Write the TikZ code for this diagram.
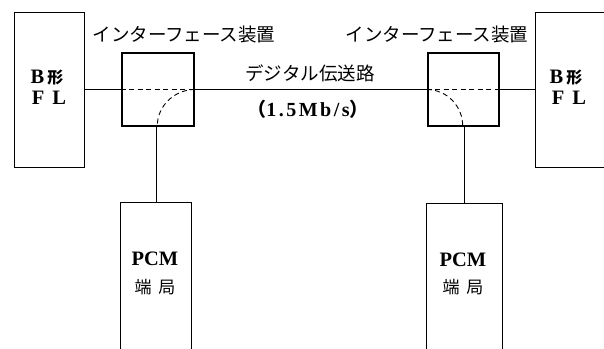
\documentclass[tikz,border=0pt]{standalone}
\usepackage{fontspec}
\setmainfont{Liberation Serif}
\newfontfamily\jp{Noto Sans CJK JP}
\begin{document}
\begin{tikzpicture}[x=1pt,y=-1pt,
  flbox/.style={draw, line width=0.9pt, minimum width=70pt, minimum height=155pt, inner sep=0pt},
  ifbox/.style={draw, line width=2.6pt, minimum width=72pt, minimum height=73pt, inner sep=0pt},
  pcmbox/.style={draw, line width=0.9pt, minimum width=71pt, minimum height=170pt, inner sep=0pt},
  wire/.style={line width=0.9pt},
  dwire/.style={line width=0.9pt, dash pattern=on 5pt off 3.5pt},
  lbl/.style={font=\jp\fontsize{18.5}{20}\selectfont, inner sep=0pt},
  lat/.style={font=\bfseries\fontsize{20.5}{22}\selectfont, inner sep=0pt},
  kan/.style={font=\jp\fontsize{17}{19}\selectfont, inner sep=0pt}]
\clip (0,0) rectangle (604,348);
% boxes
\node[flbox] (fl1) at (49,89.5) {};
\node[flbox, minimum width=90pt] (fl2) at (580,89.5) {};
\node[ifbox] (if1) at (158,89.5) {};
\node[ifbox, minimum width=71pt] (if2) at (463.5,89.5) {};
\node[pcmbox] (pcm1) at (156,287) {};
\node[pcmbox, minimum width=76pt] (pcm2) at (464,288) {};
% wires
\draw[wire] (fl1.east) -- (if1.west);
\draw[dwire] (if1.west) -- (if1.east);
\draw[wire] (if1.east) -- (if2.west);
\draw[dwire] (if2.west) -- (if2.east);
\draw[wire] (if2.east) -- (fl2.west);
\draw[dwire] (if1.east) arc[start angle=270, end angle=180, x radius=38, y radius=36.5];
\draw[dwire] (if2.west) arc[start angle=270, end angle=360, x radius=36, y radius=36.5];
\draw[wire] (pcm1.north) -- (pcm1.north |- if1.south);
\draw[wire] (pcm2.north) -- (pcm2.north |- if2.south);
% labels
\node[lbl] (lab1) at (184,35) {インターフェース装置};
\node[lbl] (lab2) at (437,35) {インターフェース装置};
\node[lbl] (lab3) at (310,73) {デジタル伝送路};
\node[lat, font=\bfseries\fontsize{20}{22}\selectfont] (lab4) at (308,109) {{\jp\fontsize{19}{20}\selectfont （}1\kern2.5pt.\kern2.5pt5\kern2.5pt M\kern2.5pt b\kern2.5pt/\kern2.5pt s{\jp\fontsize{19}{20}\selectfont ）}};
\node[lat] (b1) at (47,78) {B\hspace{3pt}{\jp\fontsize{16}{18}\selectfont 形}};
\node[lat] (f1) at (49,98) {F\hspace{8pt}L};
\node[lat] (b2) at (566,78) {B\hspace{3pt}{\jp\fontsize{16}{18}\selectfont 形}};
\node[lat] (f2) at (569,98) {F\hspace{8pt}L};
\node[lat] (p1) at (155,259) {PCM};
\node[kan] (t1) at (155,287) {端\hspace{7pt}局};
\node[lat] (p2) at (463,260) {PCM};
\node[kan] (t2) at (463,287) {端\hspace{7pt}局};
\end{tikzpicture}
\end{document}
